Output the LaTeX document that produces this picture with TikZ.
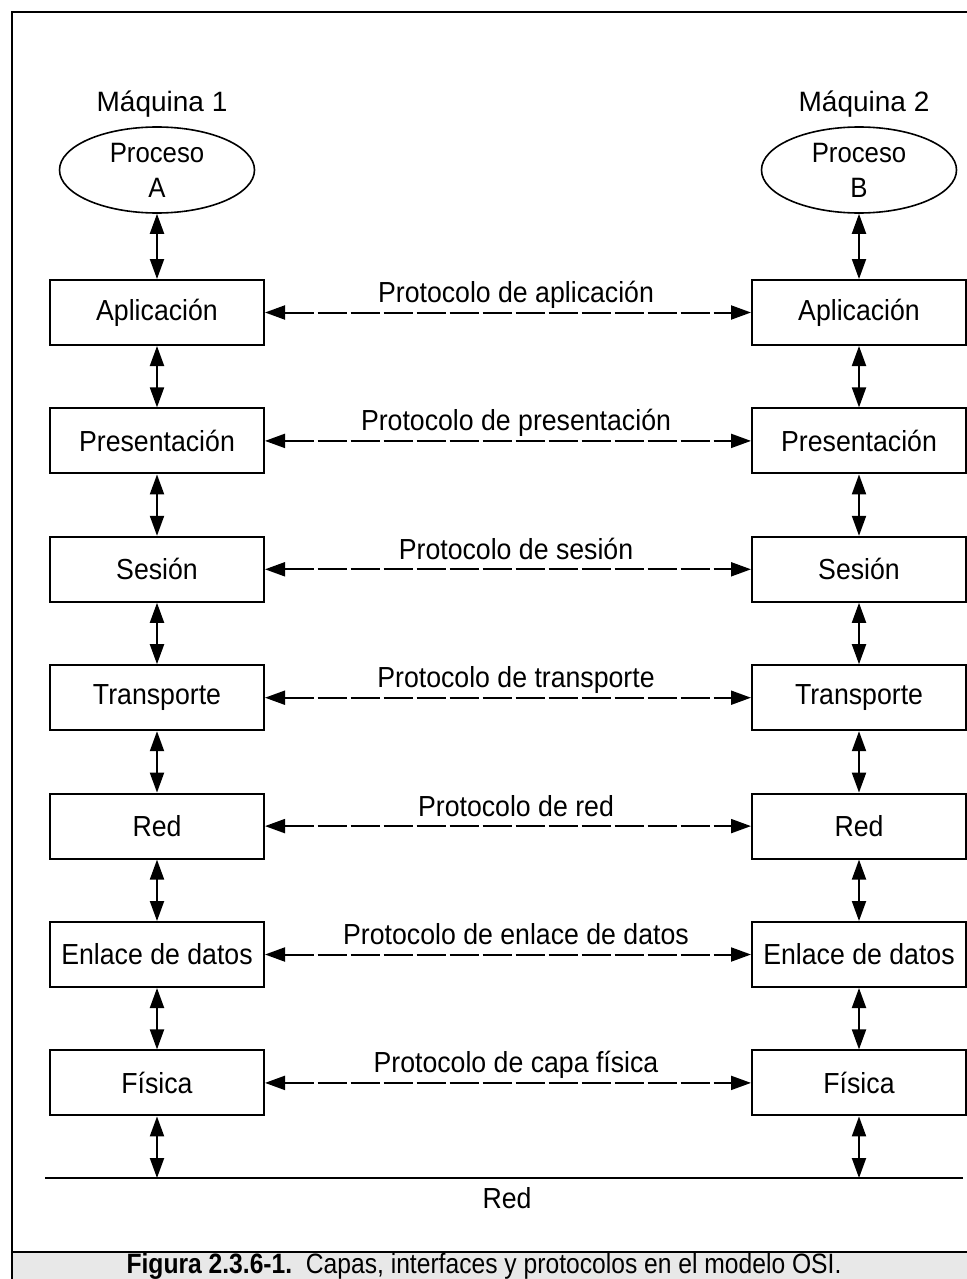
\documentclass[tikz,border=0pt]{standalone}
\usepackage{fontspec}
\setmainfont{Liberation Sans}
\newfontfamily\narrowfont{Liberation Sans}[FakeStretch=0.92]
\newfontfamily\captionfont{Liberation Sans}[FakeStretch=0.88]
\usetikzlibrary{positioning,arrows.meta,shapes.geometric}

\begin{document}
\begin{tikzpicture}[x=0.5pt, y=-0.5pt,
  capa/.style={draw, line width=1pt, minimum width=107pt, minimum height=32.5pt,
               inner sep=0pt, font=\narrowfont\fontsize{14.5}{17}\selectfont},
  proc/.style={draw, ellipse, line width=0.8pt, minimum width=97.5pt, minimum height=43pt,
               inner sep=0pt, align=center, font=\narrowfont\fontsize{14}{17.5}\selectfont},
  maq/.style={anchor=base, font=\fontsize{14}{16}\selectfont},
  flecha/.style={{Triangle[length=10pt,width=7pt]}-{Triangle[length=10pt,width=7pt]}, line width=1pt},
  proto/.style={flecha, dash pattern=on 14.5pt off 2pt},
  rot/.style={anchor=base, font=\narrowfont\fontsize{14.5}{17}\selectfont}]
\useasboundingbox (0,0) rectangle (967,1279);

% marco y pie de figura
\fill[gray!18] (12,1252) rectangle (980,1290);
\draw[line width=1.3pt] (12,1290) -- (12,12) -- (980,12);
\draw[line width=1.3pt] (12,1252) -- (980,1252);
\node[font=\captionfont\fontsize{14}{17}\selectfont, anchor=base] (pie) at (484,1273)
  {\textbf{Figura 2.3.6-1.}\ \ Capas, interfaces y protocolos en el modelo OSI.};

% procesos
\node[proc] (pa) at (157,170) {Proceso\\A};
\node[proc] (pb) at (859,170) {Proceso\\B};
\node[maq] (m1) at (162,112) {Máquina 1};
\node[maq] (m2) at (864,112) {Máquina 2};

% capas
\foreach \c [count=\i] in {Aplicación, Presentación, Sesión, Transporte, Red, Enlace de datos, Física} {
  \node[capa] (a\i) at (157,{312.5+128.4*(\i-1)}) {\c};
  \node[capa] (b\i) at (859,{312.5+128.4*(\i-1)}) {\c};
}
\draw[flecha] (pa) -- (a1);
\draw[flecha] (pb) -- (b1);
\foreach \i [evaluate=\i as \j using int(\i+1)] in {1,...,6} {
  \draw[flecha] (a\i) -- (a\j);
  \draw[flecha] (b\i) -- (b\j);
}

% protocolos
\foreach \p [count=\i] in {aplicación, presentación, sesión, transporte, red, enlace de datos, capa física}
  \draw[proto] (a\i) -- (b\i) node[midway, rot, yshift=5pt, xshift=4pt] {Protocolo de \p};

% red
\coordinate (rizq) at (45,1178);
\coordinate (rder) at (963,1178);
\coordinate (ra) at (157,1178);
\coordinate (rb) at (859,1178);
\draw[line width=1pt] (rizq) -- (rder);
\node[rot] (red) at (507,1208) {Red};
\draw[flecha] (a7) -- (ra);
\draw[flecha] (b7) -- (rb);
\end{tikzpicture}
\end{document}
